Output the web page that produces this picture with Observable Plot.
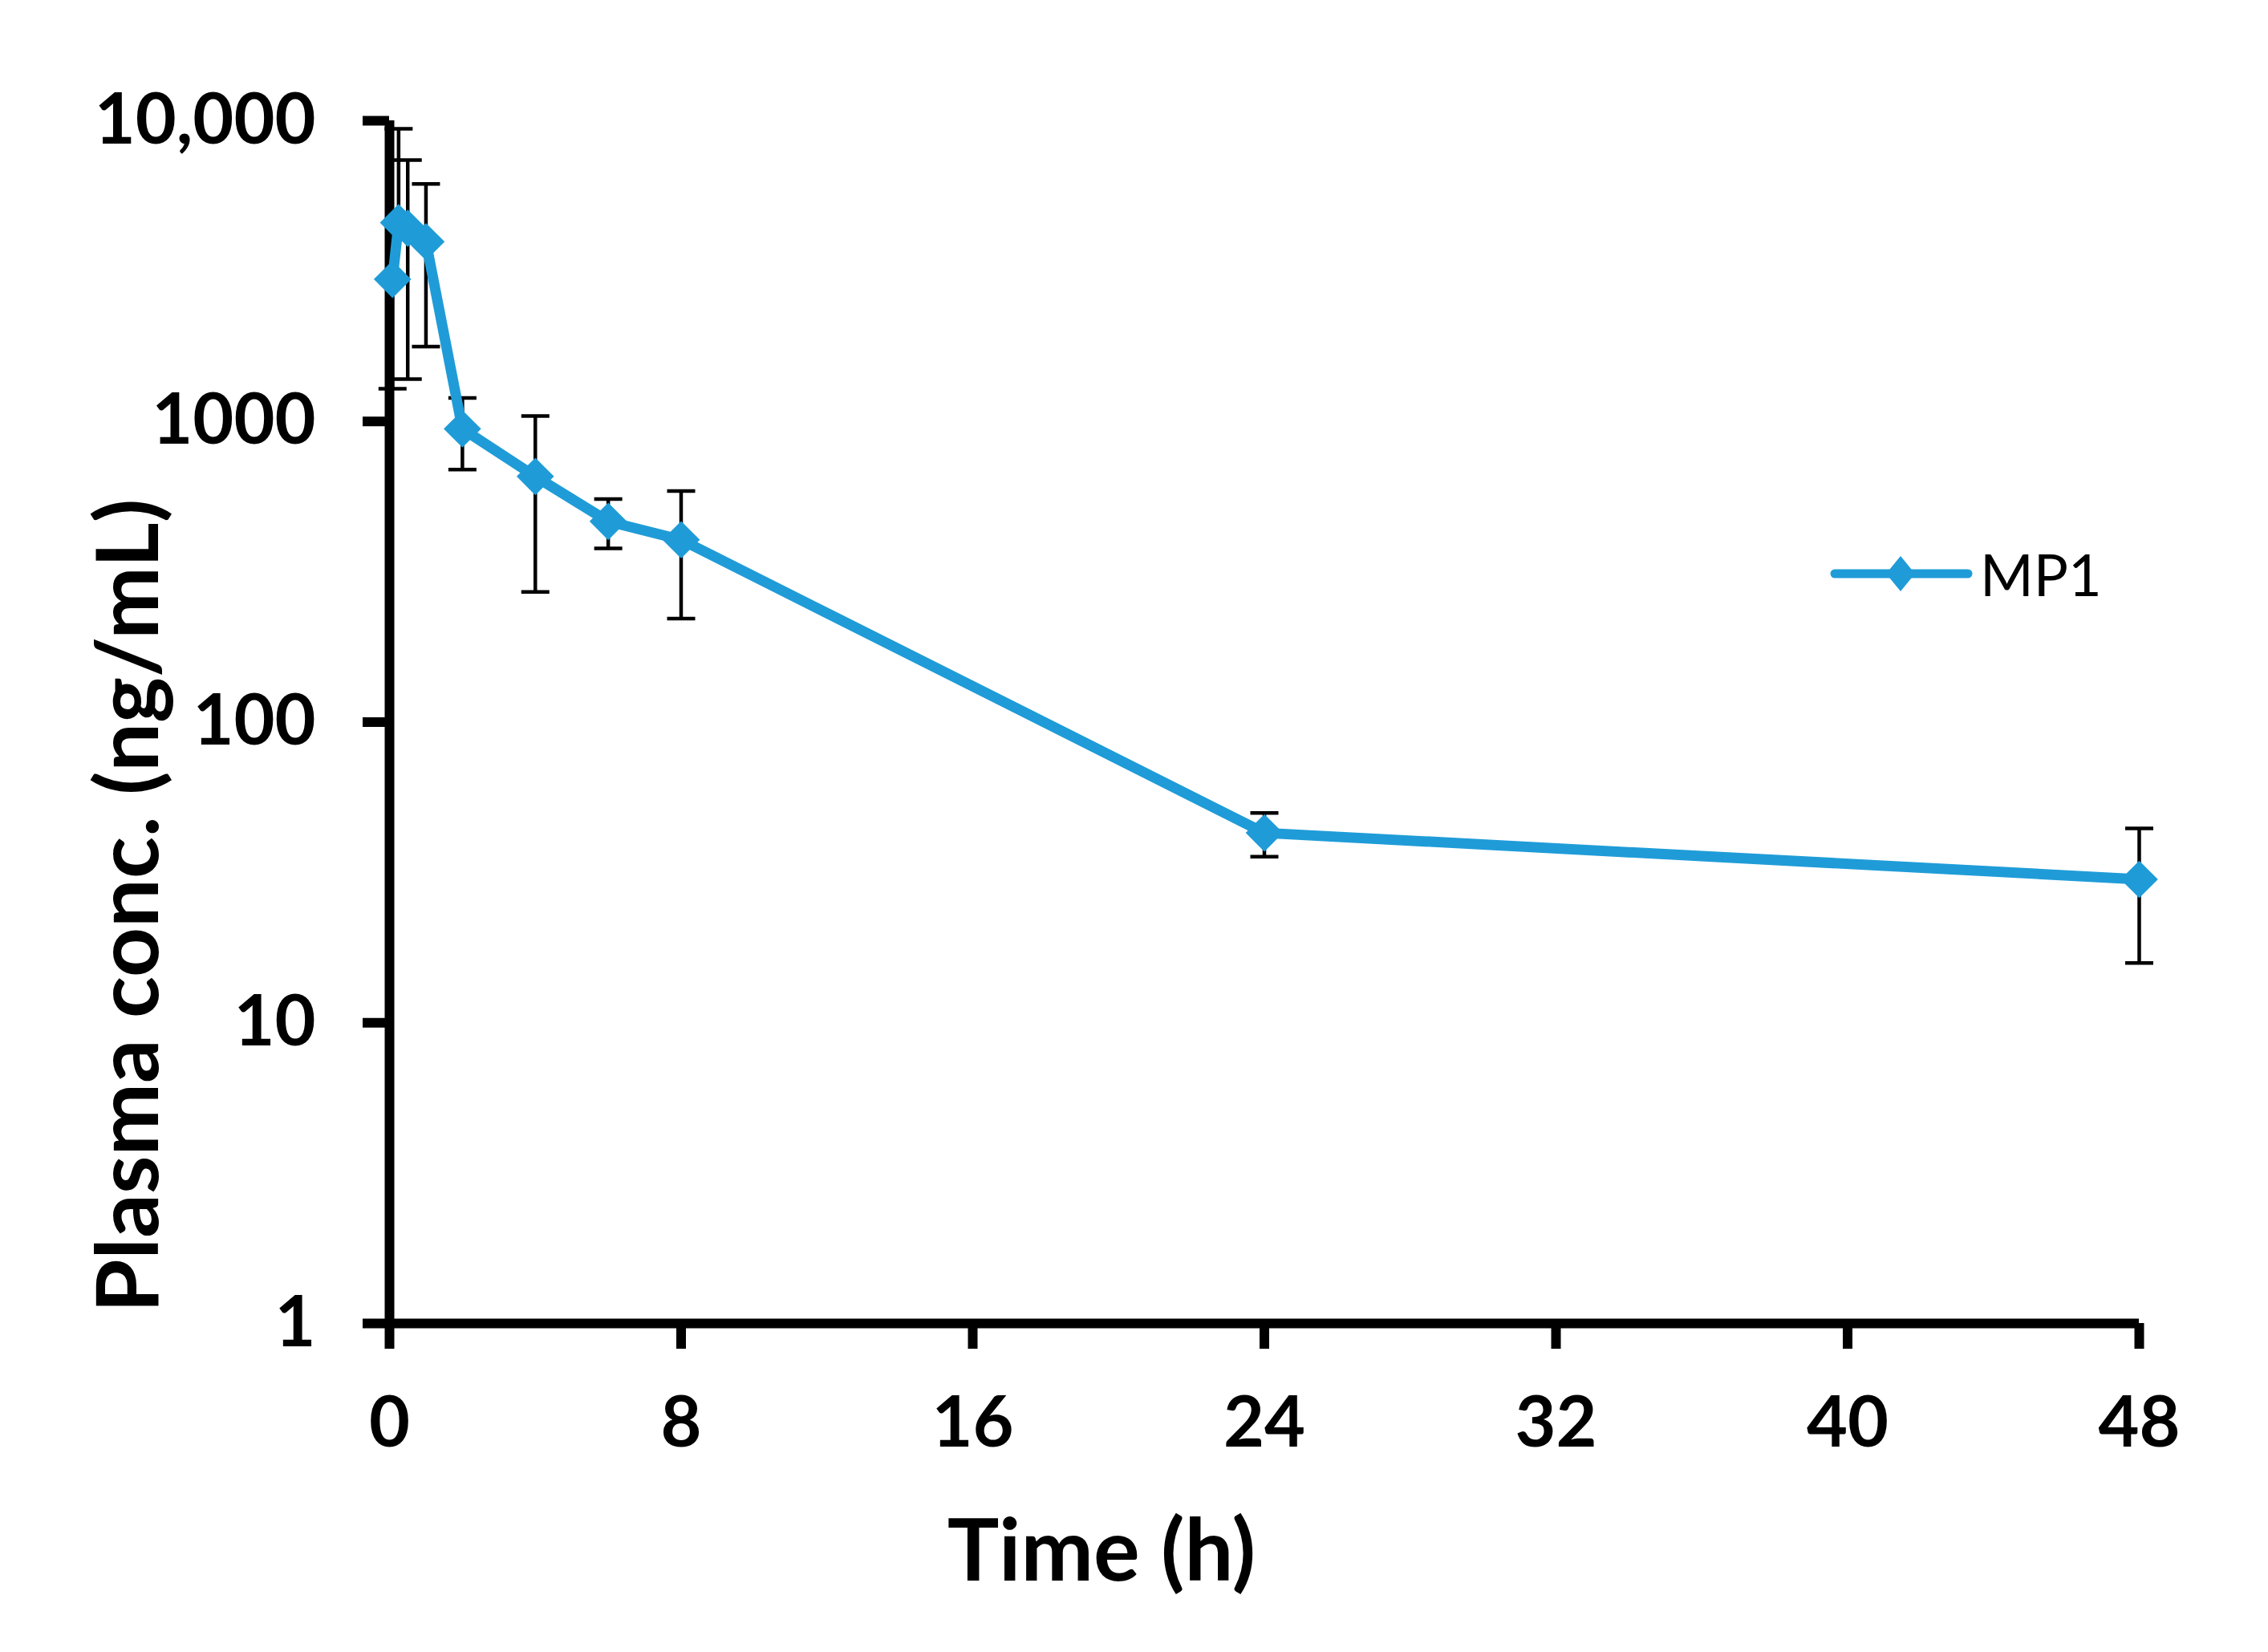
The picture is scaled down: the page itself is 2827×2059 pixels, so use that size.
<!DOCTYPE html>
<html>
<head>
<meta charset="utf-8">
<script src="https://cdn.jsdelivr.net/npm/d3@7"></script>
<script src="https://cdn.jsdelivr.net/npm/@observablehq/plot@0.6"></script>
<style>
  html, body { margin: 0; padding: 0; background: #fff; }
  #wrap { position: relative; width: 2827px; height: 2059px; background: #fff; }
  #legend { position: absolute; left: 2280px; top: 672px; display: flex; align-items: center;
            font-family: Lato, "Open Sans", sans-serif; font-size: 72px; color: #000; }
  #legend span { margin-left: 8px; }
</style>
</head>
<body>
<div id="wrap"></div>
<script>
// ---- data ----
const seriesName = "MP1";
const times = [0.083, 0.25, 0.5, 1, 2, 4, 6, 8, 24, 48];
const conc  = [2970, 4580, 4390, 3960, 945, 656, 465, 404, 42.8, 30.0];
const upper = [null, 9400, 7400, 6160, 1197, 1042, 552, 587, 49.9, 44.3];
const lower = [1284, null, 1382, 1774, 692, 271, 378, 221, 35.7, 15.8];
const xTicks = [0, 8, 16, 24, 32, 40, 48];
const yTicks = [1, 10, 100, 1000, 10000];
const yTickLabels = ["1", "10", "100", "1000", "10,000"];
const xTitle = "Time (h)";
const yTitle = "Plasma conc. (ng/mL)";

const color = "#1f9cd8";
const data = times.map((t, i) => ({t, c: conc[i], hi: upper[i], lo: lower[i]}));
const up = data.filter(d => d.hi != null);
const dn = data.filter(d => d.lo != null);
const capSymbol = { draw(ctx) { ctx.moveTo(-17.5, 0); ctx.lineTo(17.5, 0); } };

const chart = Plot.plot({
  width: 2827,
  height: 2059,
  marginLeft: 485,
  marginRight: 161,
  marginTop: 150,
  marginBottom: 410,
  style: { fontFamily: "Lato, 'Open Sans', sans-serif", background: "#fff", color: "#000" },
  x: { domain: [0, 48] },
  y: { type: "log", domain: [1, 10000] },
  marks: [
    Plot.axisX({ ticks: xTicks, tickSize: 32, tickPadding: 59, strokeWidth: 12,
                 fontSize: 88, fontWeight: "bold", label: null, tickFormat: d => String(d) }),
    Plot.axisY({ ticks: yTicks, tickFormat: d => yTickLabels[yTicks.indexOf(d)],
                 tickSize: 33, tickPadding: 59, strokeWidth: 12,
                 fontSize: 88, fontWeight: "bold", label: null }),
    Plot.ruleX([0], { strokeWidth: 12 }),
    Plot.ruleY([1], { strokeWidth: 12 }),
    // error bars
    Plot.ruleX(up, { x: "t", y1: "c", y2: "hi", stroke: "#000", strokeWidth: 4.5 }),
    Plot.ruleX(dn, { x: "t", y1: "lo", y2: "c", stroke: "#000", strokeWidth: 4.5 }),
    Plot.dot(up, { x: "t", y: "hi", symbol: capSymbol, r: 1, fill: "none", stroke: "#000", strokeWidth: 4.5 }),
    Plot.dot(dn, { x: "t", y: "lo", symbol: capSymbol, r: 1, fill: "none", stroke: "#000", strokeWidth: 4.5 }),
    // series
    Plot.line(data, { x: "t", y: "c", stroke: color, strokeWidth: 13, strokeLinejoin: "round", strokeLinecap: "round" }),
    Plot.dot(data, { x: "t", y: "c", symbol: "diamond2", r: 21, fill: color }),
    // axis titles
    Plot.text([xTitle], { text: d => d, frameAnchor: "bottom", dx: -203, dy: 286,
                          fontSize: 108, fontWeight: "bold", textAnchor: "middle", lineAnchor: "middle", fill: "#000" }),
    Plot.text([yTitle], { text: d => d, frameAnchor: "left", rotate: -90, dx: -323, dy: 229,
                          fontSize: 108, fontWeight: "bold", textAnchor: "middle", lineAnchor: "middle", fill: "#000" })
  ]
});
const wrap = document.getElementById("wrap");
wrap.appendChild(chart);

// legend (inside plot area, upper right)
const legend = document.createElement("div");
legend.id = "legend";
legend.innerHTML =
  `<svg width="180" height="50" viewBox="0 0 180 50">
     <line x1="7" y1="25" x2="173" y2="25" stroke="${color}" stroke-width="11" stroke-linecap="round"/>
     <path d="M89,3 L107,25 L89,47 L71,25 Z" fill="${color}"/>
   </svg><span>${seriesName}</span>`;
wrap.appendChild(legend);
</script>
</body>
</html>
